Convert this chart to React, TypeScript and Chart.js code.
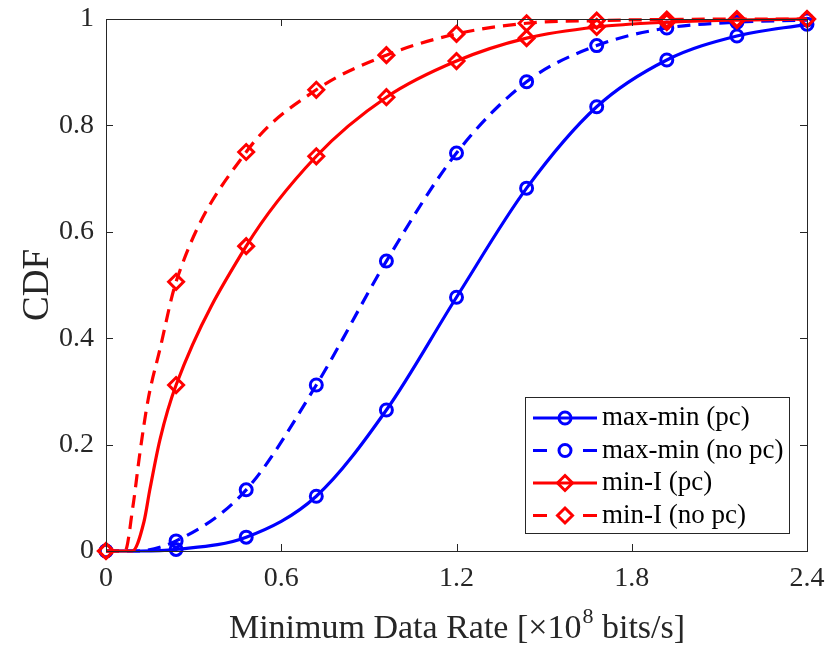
import { useEffect, useRef } from 'react';
import { Chart, registerables } from 'chart.js';
Chart.register(...registerables);

// Marker positions and CDF values
const markerX = [0, 0.24, 0.48, 0.72, 0.96, 1.2, 1.44, 1.68, 1.92, 2.16, 2.4];
const maxMinPc = [0, 0.003, 0.026, 0.103, 0.265, 0.477, 0.682, 0.835, 0.923, 0.968, 0.99];
const maxMinNoPc = [0, 0.019, 0.115, 0.312, 0.545, 0.748, 0.882, 0.95, 0.983, 0.994, 0.998];
const minIPc = [0, 0.312, 0.573, 0.742, 0.853, 0.921, 0.964, 0.985, 0.994, 0.998, 1];
const minINoPc = [0, 0.506, 0.75, 0.867, 0.932, 0.972, 0.992, 0.997, 0.999, 1, 1];

// Extra points (between markers)
const minIPcExtraX = [0.09, 0.13, 0.15, 0.185];
const minIPcExtraY = [0, 0.055, 0.115, 0.21];
const minINoPcExtraX = [0.065, 0.092, 0.116, 0.144, 0.185];
const minINoPcExtraY = [0, 0.083, 0.184, 0.284, 0.38];
const maxMinPcExtraX = [0.12];
const maxMinPcExtraY = [0];
const maxMinNoPcExtraX = [0.1];
const maxMinNoPcExtraY = [0];

const xTicks = [0, 0.6, 1.2, 1.8, 2.4];
const xTickLabels = ['0', '0.6', '1.2', '1.8', '2.4'];
const yTicks = [0, 0.2, 0.4, 0.6, 0.8, 1];
const yTickLabels = ['0', '0.2', '0.4', '0.6', '0.8', '1'];

const seriesNames = ['max-min (pc)', 'max-min (no pc)', 'min-I (pc)', 'min-I (no pc)'];
const BLUE = '#0000ff';
const RED = '#ff0000';
const AXIS = '#262626';
const FONT = '"Liberation Serif", "Times New Roman", serif';

function pts(xs: number[], ys: number[]) {
  return xs.map((x, i) => ({ x, y: ys[i] }));
}
function merged(xs: number[], ys: number[], ex: number[], ey: number[]) {
  return [...pts(xs, ys), ...pts(ex, ey)].sort((a, b) => a.x - b.x);
}

const seriesStyle = [
  { color: BLUE, dash: [] as number[], marker: 'circle', radius: 6 },
  { color: BLUE, dash: [13, 8], marker: 'circle', radius: 6 },
  { color: RED, dash: [] as number[], marker: 'rectRot', radius: 7.5 },
  { color: RED, dash: [13, 8], marker: 'rectRot', radius: 7.5 },
];

function drawMarker(ctx: CanvasRenderingContext2D, kind: string, x: number, y: number, r: number) {
  ctx.beginPath();
  if (kind === 'circle') {
    ctx.arc(x, y, r, 0, Math.PI * 2);
  } else {
    ctx.moveTo(x, y - r);
    ctx.lineTo(x + r, y);
    ctx.lineTo(x, y + r);
    ctx.lineTo(x - r, y);
    ctx.closePath();
  }
  ctx.stroke();
}

const framePlugin = {
  id: 'matlabFrame',
  afterDraw(chart: any) {
    const { ctx, chartArea: a, scales } = chart;
    const xs = scales.x;
    const ys = scales.y;
    ctx.save();
    // box
    ctx.strokeStyle = AXIS;
    ctx.lineWidth = 1;
    ctx.setLineDash([]);
    ctx.strokeRect(a.left + 0.5, a.top + 0.5, a.right - a.left, a.bottom - a.top);
    // ticks inward
    const tl = 7;
    ctx.beginPath();
    xTicks.forEach((v) => {
      const px = Math.round(xs.getPixelForValue(v)) + 0.5;
      ctx.moveTo(px, a.bottom);
      ctx.lineTo(px, a.bottom - tl);
      ctx.moveTo(px, a.top);
      ctx.lineTo(px, a.top + tl);
    });
    yTicks.forEach((v) => {
      const py = Math.round(ys.getPixelForValue(v)) + 0.5;
      ctx.moveTo(a.left, py);
      ctx.lineTo(a.left + tl, py);
      ctx.moveTo(a.right, py);
      ctx.lineTo(a.right - tl, py);
    });
    ctx.stroke();

    // tick labels
    ctx.fillStyle = AXIS;
    ctx.font = `28px ${FONT}`;
    ctx.textAlign = 'center';
    ctx.textBaseline = 'middle';
    xTicks.forEach((v, i) => {
      ctx.fillText(xTickLabels[i], xs.getPixelForValue(v), a.bottom + 28);
    });
    ctx.textAlign = 'right';
    yTicks.forEach((v, i) => {
      ctx.fillText(yTickLabels[i], a.left - 12, ys.getPixelForValue(v));
    });

    // x title with superscript
    const cx = (a.left + a.right) / 2;
    const base = a.bottom + 87;
    const big = `34px ${FONT}`;
    const small = `22px ${FONT}`;
    const p1 = 'Minimum Data Rate [\u00d710';
    const p2 = '8';
    const p3 = ' bits/s]';
    ctx.font = big;
    const w1 = ctx.measureText(p1).width;
    const w3 = ctx.measureText(p3).width;
    ctx.font = small;
    const w2 = ctx.measureText(p2).width;
    let sx = cx - (w1 + w2 + w3) / 2;
    ctx.textAlign = 'left';
    ctx.textBaseline = 'alphabetic';
    ctx.font = big;
    ctx.fillText(p1, sx, base);
    sx += w1 + 1;
    ctx.font = small;
    ctx.fillText(p2, sx, base - 15);
    sx += w2;
    ctx.font = big;
    ctx.fillText(p3, sx, base);

    // y title
    ctx.save();
    ctx.translate(38, (a.top + a.bottom) / 2);
    ctx.rotate(-Math.PI / 2);
    ctx.textAlign = 'center';
    ctx.textBaseline = 'middle';
    ctx.font = `37px ${FONT}`;
    ctx.fillText('CDF', 0, 0);
    ctx.restore();

    // legend
    const lw = 264;
    const lh = 136;
    const lx = a.right - 18 - lw;
    const ly = a.bottom - 18 - lh;
    ctx.fillStyle = '#ffffff';
    ctx.fillRect(lx, ly, lw, lh);
    ctx.strokeStyle = AXIS;
    ctx.lineWidth = 1;
    ctx.strokeRect(lx + 0.5, ly + 0.5, lw, lh);
    seriesNames.forEach((name, i) => {
      const st = seriesStyle[i];
      const ry = ly + 21 + i * 32.5;
      const x0 = lx + 8;
      const x1 = lx + 72;
      ctx.strokeStyle = st.color;
      ctx.lineWidth = 3;
      ctx.setLineDash(st.dash.length ? [14, 36] : []);
      ctx.beginPath();
      ctx.moveTo(x0, ry);
      ctx.lineTo(x1, ry);
      ctx.stroke();
      ctx.setLineDash([]);
      ctx.lineWidth = 3;
      drawMarker(ctx, st.marker, (x0 + x1) / 2, ry, st.radius);
      ctx.fillStyle = '#000000';
      ctx.font = `27px ${FONT}`;
      ctx.textAlign = 'left';
      ctx.textBaseline = 'middle';
      ctx.fillText(name, lx + 77, ry);
    });
    ctx.restore();
  },
};

export default function App() {
  const ref = useRef<HTMLCanvasElement>(null);
  useEffect(() => {
    if (!ref.current) return;
    const curves = [
      merged(markerX, maxMinPc, maxMinPcExtraX, maxMinPcExtraY),
      merged(markerX, maxMinNoPc, maxMinNoPcExtraX, maxMinNoPcExtraY),
      merged(markerX, minIPc, minIPcExtraX, minIPcExtraY),
      merged(markerX, minINoPc, minINoPcExtraX, minINoPcExtraY),
    ];
    const markers = [maxMinPc, maxMinNoPc, minIPc, minINoPc].map((ys) => pts(markerX, ys));
    const datasets: any[] = [];
    seriesStyle.forEach((st, i) => {
      datasets.push({
        label: seriesNames[i],
        data: curves[i],
        showLine: true,
        borderColor: st.color,
        borderWidth: 3.2,
        borderDash: st.dash,
        pointRadius: 0,
        cubicInterpolationMode: 'monotone',
        clip: false,
        order: 10 - i * 2,
      });
      datasets.push({
        label: seriesNames[i] + ' markers',
        data: markers[i],
        showLine: false,
        borderColor: st.color,
        backgroundColor: 'rgba(0,0,0,0)',
        borderWidth: 3,
        pointStyle: st.marker,
        pointRadius: st.radius,
        clip: false,
        order: 9 - i * 2,
      });
    });
    const chart = new Chart(ref.current, {
      type: 'scatter',
      data: { datasets },
      options: {
        animation: false,
        responsive: false,
        layout: { padding: { left: 106, right: 22, top: 19, bottom: 96 } },
        plugins: { legend: { display: false }, tooltip: { enabled: false } },
        scales: {
          x: { type: 'linear', min: 0, max: 2.4, display: false },
          y: { type: 'linear', min: 0, max: 1, display: false },
        },
      },
      plugins: [framePlugin],
    });
    return () => chart.destroy();
  }, []);
  return (
    <div style={{ position: 'absolute', left: 0, top: 0, width: 829, height: 647, background: '#fff' }}>
      <canvas ref={ref} width={829} height={647} />
    </div>
  );
}
